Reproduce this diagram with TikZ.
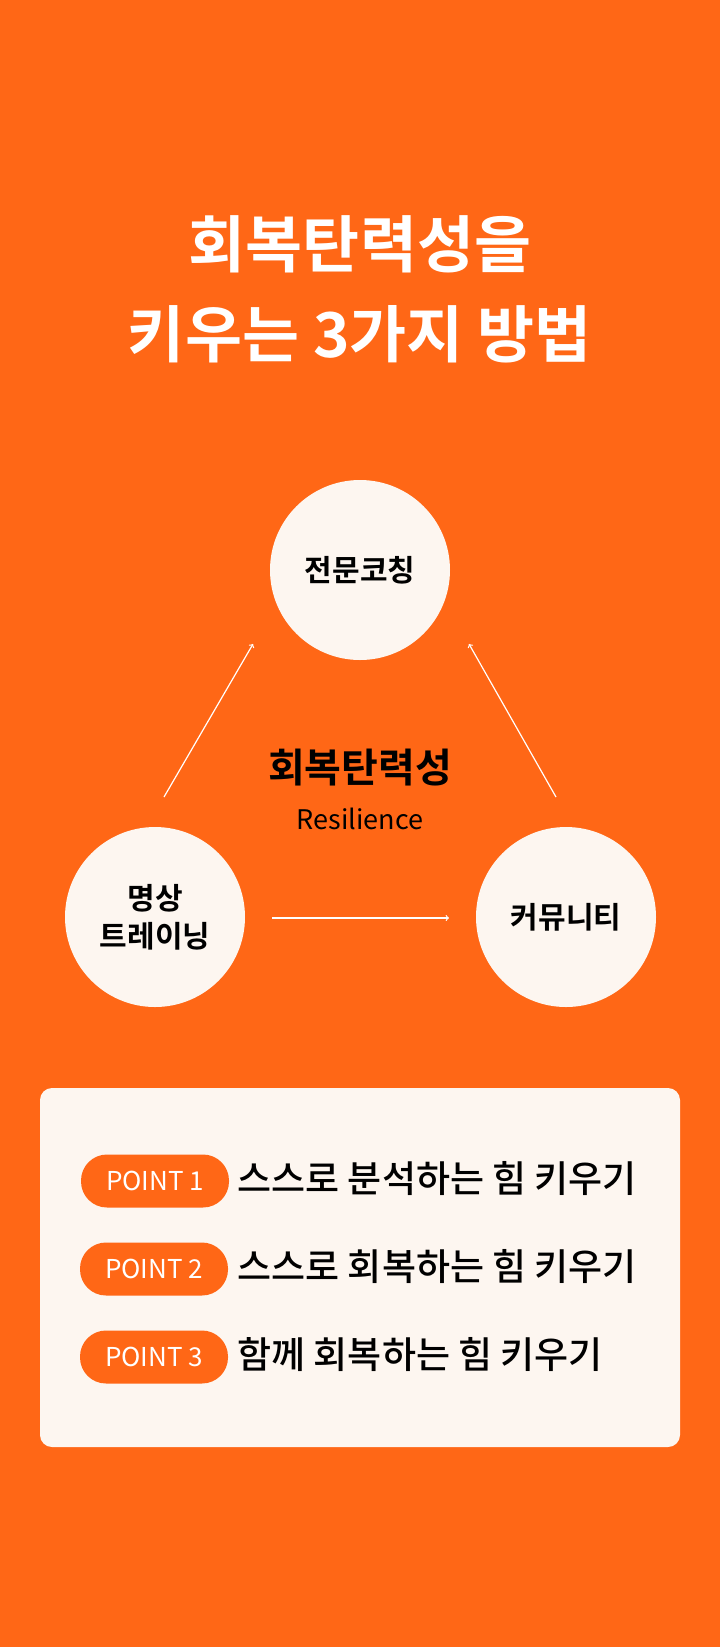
\documentclass[tikz,border=0pt]{standalone}
\usepackage{fontspec}
\setmainfont{Noto Sans CJK KR}
\newfontfamily\krbold{Noto Sans CJK KR Bold}
\newfontfamily\krmed{Noto Sans CJK KR Medium}
\usetikzlibrary{positioning}
\definecolor{brand}{HTML}{FF6716}
\definecolor{cream}{HTML}{FDF6F0}
\begin{document}
\begin{tikzpicture}[x=1pt,y=-1pt,
            topic/.style={circle, fill=cream, minimum size=180pt, inner sep=0pt,
            align=center, font=\krbold\fontsize{30}{38}\selectfont},
            pill/.style={rounded corners=26pt, fill=brand, text=white, minimum width=148pt,
            minimum height=53pt, font=\fontsize{26}{30}\selectfont},
            point/.style={anchor=west, font=\krmed\fontsize{37}{42}\selectfont},
            link/.style={draw=white, line width=1.2pt, ->}]
        \fill[brand] (0,0) rectangle (720,1647);
        \node[font=\krbold\fontsize{62}{90}\selectfont, text=white, align=center] (title) at (360,289)
            {회복탄력성을\\키우는 3가지 방법};

        \node[topic] (coach) at (360,570) {전문코칭};
        \node[topic] (meditate) at (155,917) {명상\\트레이닝};
        \node[topic] (community) at (566,917) {커뮤니티};
        \node[font=\krbold\fontsize{40}{44}\selectfont] (core) at (360,768) {회복탄력성};
        \node[font=\fontsize{27}{30}\selectfont] (resil) at (360,819) {Resilience};

        \coordinate (a1) at (164,797); \coordinate (a2) at (253,644);
        \coordinate (b1) at (556,797); \coordinate (b2) at (469,644);
        \coordinate (c1) at (272,918); \coordinate (c2) at (449,918);
        \draw[link] (a1) -- (a2);
        \draw[link] (b1) -- (b2);
        \draw[link] (c1) -- (c2);

        \fill[cream, rounded corners=12pt] (40,1088) rectangle (680,1447);
        \node[pill] (p1) at (155,1181) {POINT 1};
        \node[pill] (p2) at (154,1269) {POINT 2};
        \node[pill] (p3) at (154,1357) {POINT 3};
        \node[point] (t1) at (234,1178) {스스로 분석하는 힘 키우기};
        \node[point] (t2) at (234,1266) {스스로 회복하는 힘 키우기};
        \node[point] (t3) at (234,1354) {함께 회복하는 힘 키우기};
    \end{tikzpicture}
\end{document}
